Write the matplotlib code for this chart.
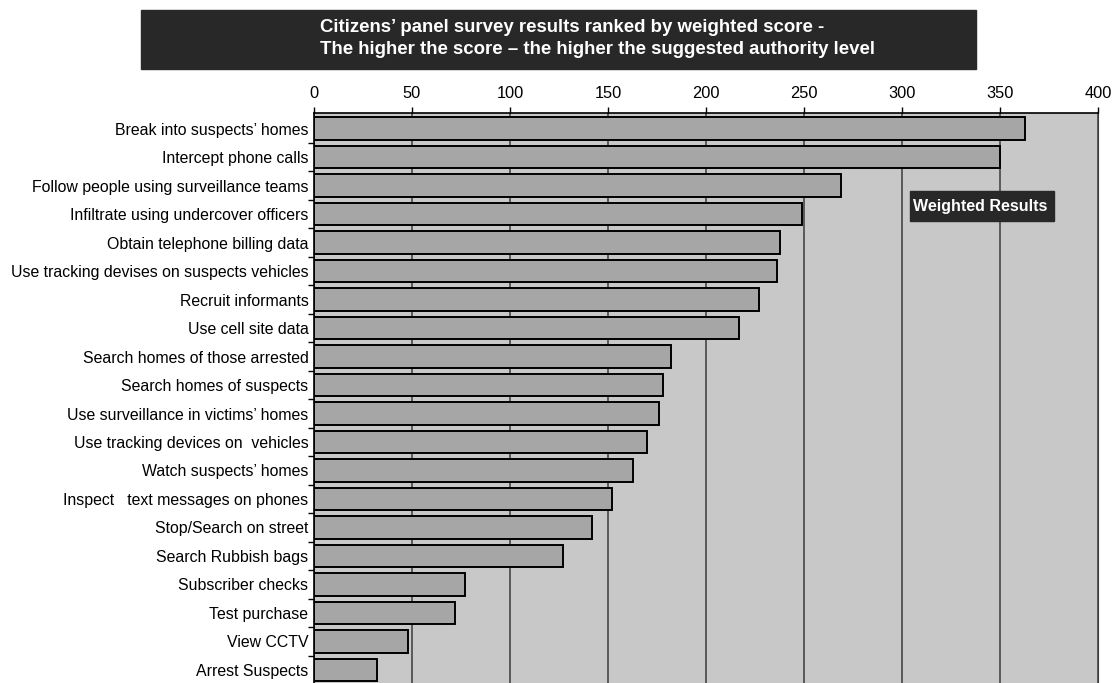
import numpy as np
import matplotlib.pyplot as plt
from matplotlib.ticker import FixedLocator

plt.rcParams['font.family'] = ['Liberation Sans', 'DejaVu Sans']

# survey items, top to bottom
measures = [
    'Break into suspects\u2019 homes',
    'Intercept phone calls',
    'Follow people using surveillance teams',
    'Infiltrate using undercover officers',
    'Obtain telephone billing data',
    'Use tracking devises on suspects vehicles',
    'Recruit informants',
    'Use cell site data',
    'Search homes of those arrested',
    'Search homes of suspects',
    'Use surveillance in victims\u2019 homes',
    'Use tracking devices on  vehicles',
    'Watch suspects\u2019 homes',
    'Inspect   text messages on phones',
    'Stop/Search on street',
    'Search Rubbish bags',
    'Subscriber checks',
    'Test purchase',
    'View CCTV',
    'Arrest Suspects',
]
weighted_score = [363, 350, 269, 249, 238, 236, 227, 217, 182, 178,
                  176, 170, 163, 152, 142, 127, 77, 72, 48, 32]
x_ticks = [0, 50, 100, 150, 200, 250, 300, 350, 400]

title_lines = ['Citizens\u2019 panel survey results ranked by weighted score -',
               'The higher the score \u2013 the higher the suggested authority level']

fig = plt.figure(figsize=(11.12, 6.83), dpi=100)
ax = fig.add_axes([314 / 1112, 0, 784 / 1112, 570 / 683])
ax.set_facecolor('#c8c8c8')

y = np.arange(len(measures))
ax.barh(y, weighted_score, height=0.79, color='#a6a6a6',
        edgecolor='black', linewidth=1.4, zorder=3)

ax.set_xlim(0, 400)
ax.set_ylim(19.46, -0.55)
ax.xaxis.tick_top()
ax.set_xticks(x_ticks)
ax.set_xticklabels([str(v) for v in x_ticks], fontsize=11.8)
ax.tick_params(axis='x', direction='out', length=4, width=1, pad=5)
ax.grid(axis='x', color='#3c3c3c', linewidth=1.1, zorder=1)

ax.set_yticks(y)
ax.set_yticklabels(measures, fontsize=11.45)
ax.tick_params(axis='y', which='major', length=0, pad=4)
ax.yaxis.set_minor_locator(FixedLocator(y[:-1] + 0.5))
ax.tick_params(axis='y', which='minor', length=4, width=1, color='black')

ax.spines['bottom'].set_visible(False)
ax.spines['right'].set_color('#3c3c3c')
ax.spines['top'].set_linewidth(1.2)
ax.spines['left'].set_linewidth(1.2)

# dark title banner
fig.patches.append(plt.Rectangle((141 / 1112, 1 - 69 / 683), 835 / 1112, 59 / 683,
                                 transform=fig.transFigure, color='#282828'))
fig.text(320 / 1112, 1 - 27 / 683, title_lines[0], color='white',
         fontsize=13.4, fontweight='bold', va='center', ha='left')
fig.text(320 / 1112, 1 - 50 / 683, title_lines[1], color='white',
         fontsize=13.4, fontweight='bold', va='center', ha='left')

# legend-like label
ax.add_patch(plt.Rectangle((0.760, 0.8105), 0.1837, 0.0526, transform=ax.transAxes,
                           color='#282828', zorder=5))
ax.text(0.7635, 0.8368, 'Weighted Results', transform=ax.transAxes,
        color='white', fontsize=11.5, fontweight='bold', va='center', ha='left',
        zorder=6)

fig.savefig('out.png', dpi=100)
